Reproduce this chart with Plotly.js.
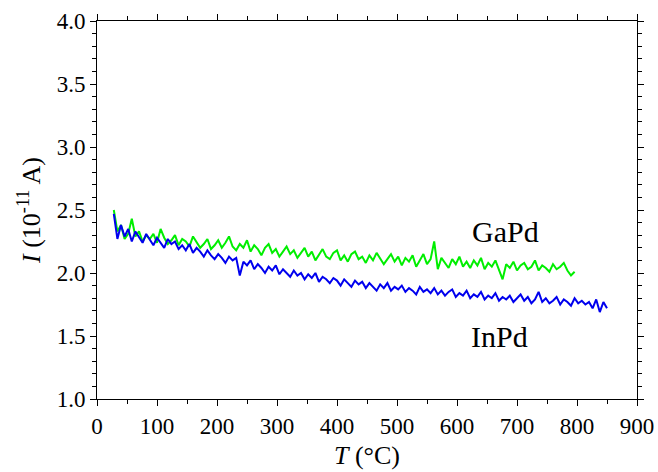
<!DOCTYPE html>
<html>
<head>
<meta charset="utf-8">
<script src="https://cdn.plot.ly/plotly-3.0.1.min.js"></script>
<style>html,body{margin:0;padding:0;background:#fff;}#chart{width:658px;height:472px;}</style>
</head>
<body>
<div id="chart"></div>
<script>
// Temperature grid (°C)
var temperature = [28,34,40,46,52,58,64,70,76,82,88,94,100,106,112,118,124,130,136,142,148,154,160,166,172,178,184,190,196,202,208,214,220,226,232,238,244,250,256,262,268,274,280,286,292,298,304,310,316,322,328,334,340,346,352,358,364,370,376,382,388,394,400,406,412,418,424,430,436,442,448,454,460,466,472,478,484,490,496,502,508,514,520,526,532,538,544,550,556,562,568,574,580,586,592,598,604,610,616,622,628,634,640,646,652,658,664,670,676,682,688,694,700,706,712,718,724,730,736,742,748,754,760,766,772,778,784,790,796,802,808,814,820,826,832,838,844,850];

// GaPd current (10^-11 A), measured up to 796 °C
var gapdCurrent = [
  2.50,2.33,2.38,2.27,2.31,2.43,2.29,2.33,2.25,2.30,
  2.27,2.31,2.24,2.35,2.28,2.23,2.26,2.30,2.22,2.27,
  2.25,2.21,2.29,2.24,2.20,2.23,2.27,2.19,2.22,2.26,
  2.20,2.24,2.29,2.21,2.18,2.23,2.20,2.26,2.17,2.22,
  2.19,2.14,2.20,2.23,2.16,2.19,2.13,2.17,2.21,2.15,
  2.18,2.12,2.16,2.20,2.13,2.17,2.10,2.15,2.19,2.13,
  2.11,2.16,2.18,2.10,2.14,2.09,2.15,2.17,2.11,2.13,
  2.08,2.14,2.10,2.16,2.12,2.07,2.11,2.15,2.09,2.13,
  2.06,2.12,2.09,2.14,2.05,2.10,2.15,2.07,2.11,2.25,
  2.03,2.12,2.08,2.04,2.11,2.07,2.13,2.05,2.09,2.04,
  2.10,2.06,2.12,2.03,2.08,2.05,2.10,2.02,1.95,2.07,
  2.04,2.09,2.02,2.06,2.08,2.03,2.05,2.10,2.02,2.06,
  2.04,2.01,2.07,2.03,2.05,2.08,2.02,1.98,2.01
];

// InPd current (10^-11 A), measured up to 850 °C
var inpdCurrent = [
  2.47,2.27,2.38,2.29,2.35,2.25,2.33,2.29,2.24,2.31,
  2.26,2.22,2.28,2.24,2.20,2.27,2.23,2.25,2.19,2.22,
  2.18,2.23,2.16,2.20,2.17,2.13,2.18,2.14,2.11,2.15,
  2.12,2.08,2.13,2.10,2.12,1.98,2.09,2.06,2.10,2.03,
  2.07,2.04,2.00,2.05,2.02,2.06,1.99,2.03,2.00,1.97,
  2.02,1.98,2.00,1.95,1.99,1.96,2.00,1.93,1.97,1.95,
  1.92,1.96,1.94,1.90,1.95,1.92,1.89,1.94,1.91,1.93,
  1.88,1.92,1.89,1.86,1.91,1.88,1.92,1.86,1.89,1.87,
  1.90,1.85,1.88,1.86,1.83,1.89,1.85,1.87,1.84,1.88,
  1.83,1.86,1.82,1.85,1.87,1.81,1.84,1.82,1.86,1.80,
  1.83,1.81,1.85,1.79,1.82,1.80,1.84,1.78,1.81,1.79,
  1.82,1.77,1.80,1.83,1.78,1.81,1.76,1.79,1.85,1.77,
  1.80,1.76,1.78,1.81,1.75,1.79,1.77,1.74,1.80,1.76,
  1.78,1.75,1.77,1.72,1.79,1.69,1.77,1.72
];

var seriesNames = ["GaPd", "InPd"];
var labelPos = {GaPd: [680, 2.33], InPd: [670, 1.5]};

var font = "Liberation Serif, Times New Roman, serif";

var traces = [
  {x: temperature.slice(0, gapdCurrent.length), y: gapdCurrent, type: "scatter", mode: "lines",
   name: seriesNames[0], line: {color: "#00ee00", width: 2}},
  {x: temperature.slice(0, inpdCurrent.length), y: inpdCurrent, type: "scatter", mode: "lines",
   name: seriesNames[1], line: {color: "#0000ee", width: 2}}
];

var axisCommon = {
  showgrid: false, zeroline: false, showline: true, linecolor: "#000", linewidth: 1,
  mirror: "ticks", ticks: "outside", ticklen: 6, tickwidth: 1, tickcolor: "#000",
  tickfont: {family: font, size: 23, color: "#000"}
};

var layout = {
  width: 658, height: 472,
  margin: {l: 97, r: 21, t: 21, b: 73},
  paper_bgcolor: "#fff", plot_bgcolor: "#fff",
  showlegend: false,
  xaxis: Object.assign({}, axisCommon, {
    range: [0, 900], dtick: 100, tick0: 0,
    minor: {dtick: 50, ticks: "outside", ticklen: 4, tickcolor: "#000"},
    title: {text: "<i>T</i> (°C)", font: {family: font, size: 26, color: "#000"}, standoff: 8}
  }),
  yaxis: Object.assign({}, axisCommon, {
    range: [1, 4], dtick: 0.5, tick0: 1, tickformat: ".1f",
    minor: {dtick: 0.1, ticks: "outside", ticklen: 4, tickcolor: "#000"},
    title: {text: "<i>I</i> (10<sup>-11</sup> A)", font: {family: font, size: 26, color: "#000"}, standoff: 8}
  }),
  annotations: seriesNames.map(function (n) {
    return {x: labelPos[n][0], y: labelPos[n][1], text: n, showarrow: false,
            font: {family: font, size: 30, color: "#000"}};
  })
};

Plotly.newPlot("chart", traces, layout, {staticPlot: true, displayModeBar: false});
</script>
</body>
</html>
